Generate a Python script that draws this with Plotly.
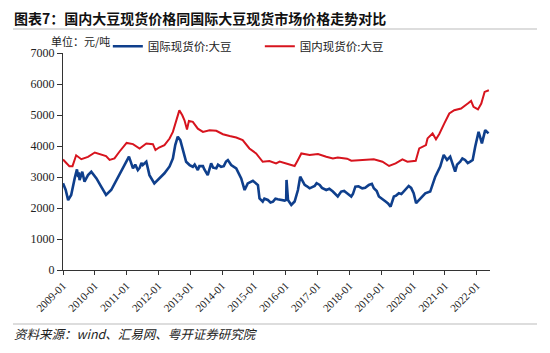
import plotly.graph_objects as go

# ---- data ----
intl_dates = [
    "2009-01-01", "2009-02-01", "2009-03-01", "2009-04-05", "2009-05-15", "2009-06-10",
    "2009-06-25", "2009-07-01", "2009-07-10", "2009-08-10", "2009-09-05", "2009-10-15",
    "2009-11-22", "2010-01-20", "2010-03-15", "2010-05-10", "2010-07-08", "2010-09-05",
    "2010-11-01", "2011-01-01", "2011-01-28", "2011-03-15", "2011-04-10", "2011-05-10",
    "2011-06-01", "2011-06-20", "2011-07-05", "2011-08-15", "2011-09-20", "2011-11-15",
    "2012-01-15", "2012-03-10", "2012-05-08", "2012-06-15", "2012-07-12", "2012-08-10",
    "2012-09-08", "2012-10-08", "2012-11-14", "2012-12-24", "2013-01-30", "2013-02-20",
    "2013-03-28", "2013-04-15", "2013-05-26", "2013-06-10", "2013-07-20", "2013-08-28",
    "2013-09-20", "2013-10-26", "2013-11-15", "2013-12-20", "2014-01-20", "2014-02-15",
    "2014-03-08", "2014-04-15", "2014-06-12", "2014-08-08", "2014-09-16", "2014-10-22",
    "2014-12-20", "2015-02-16", "2015-03-06", "2015-04-12", "2015-05-01", "2015-06-10",
    "2015-07-10", "2015-08-08", "2015-09-05", "2015-10-01", "2015-12-20", "2016-01-06",
    "2016-01-10", "2016-01-27", "2016-03-05", "2016-04-12", "2016-05-20", "2016-06-15",
    "2016-08-05", "2016-09-01", "2016-10-01", "2016-11-28", "2016-12-20", "2017-01-25",
    "2017-02-20", "2017-04-10", "2017-05-15", "2017-06-25", "2017-07-20", "2017-08-20",
    "2017-09-28", "2017-11-01", "2017-12-05", "2018-01-22", "2018-02-10", "2018-03-10",
    "2018-04-15", "2018-05-28", "2018-07-01", "2018-08-12", "2018-09-15", "2018-10-08",
    "2018-11-10", "2018-12-05", "2019-02-20", "2019-03-20", "2019-04-18", "2019-05-26",
    "2019-06-20", "2019-07-22", "2019-08-20", "2019-09-17", "2019-10-10", "2019-11-12",
    "2019-12-10", "2020-01-08", "2020-02-05", "2020-03-25", "2020-05-20", "2020-07-16",
    "2020-09-12", "2020-11-08", "2020-12-18", "2021-01-25", "2021-02-10", "2021-03-02",
    "2021-04-28", "2021-05-20", "2021-06-25", "2021-07-20", "2021-08-20", "2021-09-20",
    "2021-10-18", "2021-11-15", "2021-12-14", "2022-01-22", "2022-03-01", "2022-04-08",
    "2022-05-16",
]
intl_price = [
    2795, 2580, 2255, 2420, 2955, 3245,
    3000, 3150, 2900, 3170, 2850, 3060,
    3170, 2955, 2690, 2420, 2580, 2900,
    3225, 3545, 3655, 3280, 3400, 3225,
    3300, 3450, 3385, 3490, 3060, 2795,
    2955, 3120, 3340, 3600, 4030, 4300,
    4190, 3865, 3490, 3385, 3330, 3400,
    3225, 3350, 3350, 3250, 3060, 3440,
    3300, 3280, 3400, 3330, 3350, 3500,
    3545, 3385, 3280, 2955, 2580, 2795,
    2880, 2740, 2310, 2205, 2300, 2260,
    2180, 2205, 2300, 2280, 2240, 2260,
    2905, 2260, 2100, 2210, 2580, 3010,
    2745, 2700, 2635, 2710, 2800, 2745,
    2650, 2580, 2620, 2530, 2450, 2370,
    2530, 2550, 2475, 2370, 2450, 2690,
    2700, 2635, 2650, 2745, 2780, 2635,
    2550, 2370, 2210, 2150, 2045, 2370,
    2400, 2475, 2450, 2530, 2600, 2710,
    2650, 2475, 2155, 2315, 2475, 2530,
    3010, 3335, 3710, 3550, 3600, 3655,
    3175, 3400, 3495, 3600, 3550, 3450,
    3495, 3550, 3975, 4460, 4085, 4510,
    4405,
]

dom_dates = [
    "2009-01-01", "2009-03-15", "2009-04-20", "2009-06-01", "2009-07-30", "2009-10-15",
    "2010-01-01", "2010-02-25", "2010-05-10", "2010-06-20", "2010-08-15", "2010-10-10",
    "2011-01-01", "2011-03-15", "2011-05-30", "2011-08-15", "2011-10-30", "2011-11-28",
    "2012-01-08", "2012-03-10", "2012-05-08", "2012-06-15", "2012-07-22", "2012-08-28",
    "2012-10-01", "2012-10-26", "2012-11-24", "2012-12-16", "2013-01-30", "2013-03-28",
    "2013-05-26", "2013-08-10", "2013-10-26", "2014-01-10", "2014-03-28", "2014-06-12",
    "2014-08-25", "2014-11-10", "2015-01-26", "2015-04-12", "2015-06-28", "2015-09-12",
    "2015-10-23", "2016-01-08", "2016-04-12", "2016-05-20", "2016-06-28", "2016-10-01",
    "2017-01-05", "2017-04-10", "2017-06-25", "2017-08-20", "2017-12-05", "2018-01-22",
    "2018-06-05", "2018-10-08", "2019-01-15", "2019-04-01", "2019-06-15", "2019-09-01",
    "2019-10-28", "2020-02-01", "2020-03-12", "2020-05-28", "2020-06-15", "2020-08-12",
    "2020-09-20", "2020-10-28", "2020-12-25", "2021-02-20", "2021-04-18", "2021-07-05",
    "2021-09-20", "2021-10-28", "2021-11-25", "2022-01-15", "2022-02-22", "2022-04-01",
    "2022-05-20",
]
dom_price = [
    3565, 3350, 3350, 3700, 3575, 3650,
    3790, 3740, 3675, 3550, 3600, 3815,
    4100, 4060, 3920, 4080, 4060, 3870,
    3950, 4030, 4240, 4455, 4775, 5150,
    4990, 4830, 4530, 4810, 4780, 4560,
    4455, 4510, 4490, 4380, 4320, 4275,
    4190, 3920, 3760, 3490, 3515, 3440,
    3495, 3440, 3355, 3550, 3760, 3710,
    3740, 3655, 3600, 3630, 3590, 3525,
    3550, 3570, 3495, 3355, 3440, 3570,
    3495, 3525, 3925, 4030, 4245, 4405,
    4215, 4390, 4730, 5050, 5155, 5210,
    5370, 5455, 5265, 5180, 5370, 5745,
    5800,
]

tick_years = list(range(2009, 2023))
tick_vals = [f"{y}-01-01" for y in tick_years]
tick_text = [f"{y}-01" for y in tick_years]

title_text = "图表7：国内大豆现货价格同国际大豆现货市场价格走势对比"
unit_text = "单位：元/吨"
source_text = "资料来源：wind、汇易网、粤开证券研究院"

CJK = "Noto Sans CJK SC"
SERIF = "Liberation Serif"

fig = go.Figure()
fig.add_trace(go.Scatter(
    x=intl_dates, y=intl_price, mode="lines", name="国际现货价:大豆",
    line=dict(color="#0F3F8C", width=2.6),
))
fig.add_trace(go.Scatter(
    x=dom_dates, y=dom_price, mode="lines", name="国内现货价:大豆",
    line=dict(color="#D7141E", width=2.0),
))

fig.update_layout(
    width=550, height=353,
    margin=dict(l=63, r=60, t=53, b=83),
    paper_bgcolor="white", plot_bgcolor="white",
    showlegend=True,
    legend=dict(
        orientation="h", x=0.105, xanchor="left", y=1.031, yanchor="middle",
        font=dict(family=CJK, size=11.5, color="#222"),
        entrywidth=107, entrywidthmode="pixels",
        bgcolor="rgba(0,0,0,0)", itemwidth=30,
    ),
    xaxis=dict(
        type="date", range=["2009-01-01", "2022-06-02"],
        tickvals=tick_vals, ticktext=tick_text, tickangle=-45,
        ticks="outside", ticklen=4, tickwidth=1, tickcolor="#333",
        showline=True, linecolor="#333", linewidth=1.2,
        showgrid=False, zeroline=False,
        tickfont=dict(family=SERIF, size=11, color="#222"),
    ),
    yaxis=dict(
        range=[0, 7000], dtick=1000, tick0=0,
        ticks="outside", ticklen=5, tickwidth=1, tickcolor="#333",
        showline=True, linecolor="#333", linewidth=1.2,
        showgrid=False, zeroline=False,
        tickfont=dict(family=SERIF, size=12, color="#222"),
    ),
)

# place texts in pixel terms relative to plot area (plot: x 63..490, y 53..270)
def px_x(px):
    return (px - 63) / 427.0

def px_y(py):
    return (270 - py) / 217.0

fig.add_annotation(text=f"<b>{title_text}</b>", xref="paper", yref="paper",
                   x=px_x(12), y=px_y(18), xanchor="left", yanchor="middle",
                   showarrow=False, font=dict(family=CJK, size=14, color="#111"))
fig.add_annotation(text=unit_text, xref="paper", yref="paper",
                   x=px_x(49), y=px_y(41), xanchor="left", yanchor="middle",
                   showarrow=False, font=dict(family=CJK, size=11, color="#222"))
fig.add_annotation(text=f"<i>{source_text}</i>", xref="paper", yref="paper",
                   x=px_x(12), y=px_y(333), xanchor="left", yanchor="middle",
                   showarrow=False, font=dict(family=CJK, size=12.5, color="#222"))

# separator lines under the title and above the source
fig.add_shape(type="line", xref="paper", yref="paper",
              x0=px_x(13), x1=px_x(537), y0=px_y(29), y1=px_y(29),
              line=dict(color="#BBBBBB", width=1))
fig.add_shape(type="line", xref="paper", yref="paper",
              x0=px_x(13), x1=px_x(537), y0=px_y(324), y1=px_y(324),
              line=dict(color="#BBBBBB", width=1))

fig.write_html("out.html")
